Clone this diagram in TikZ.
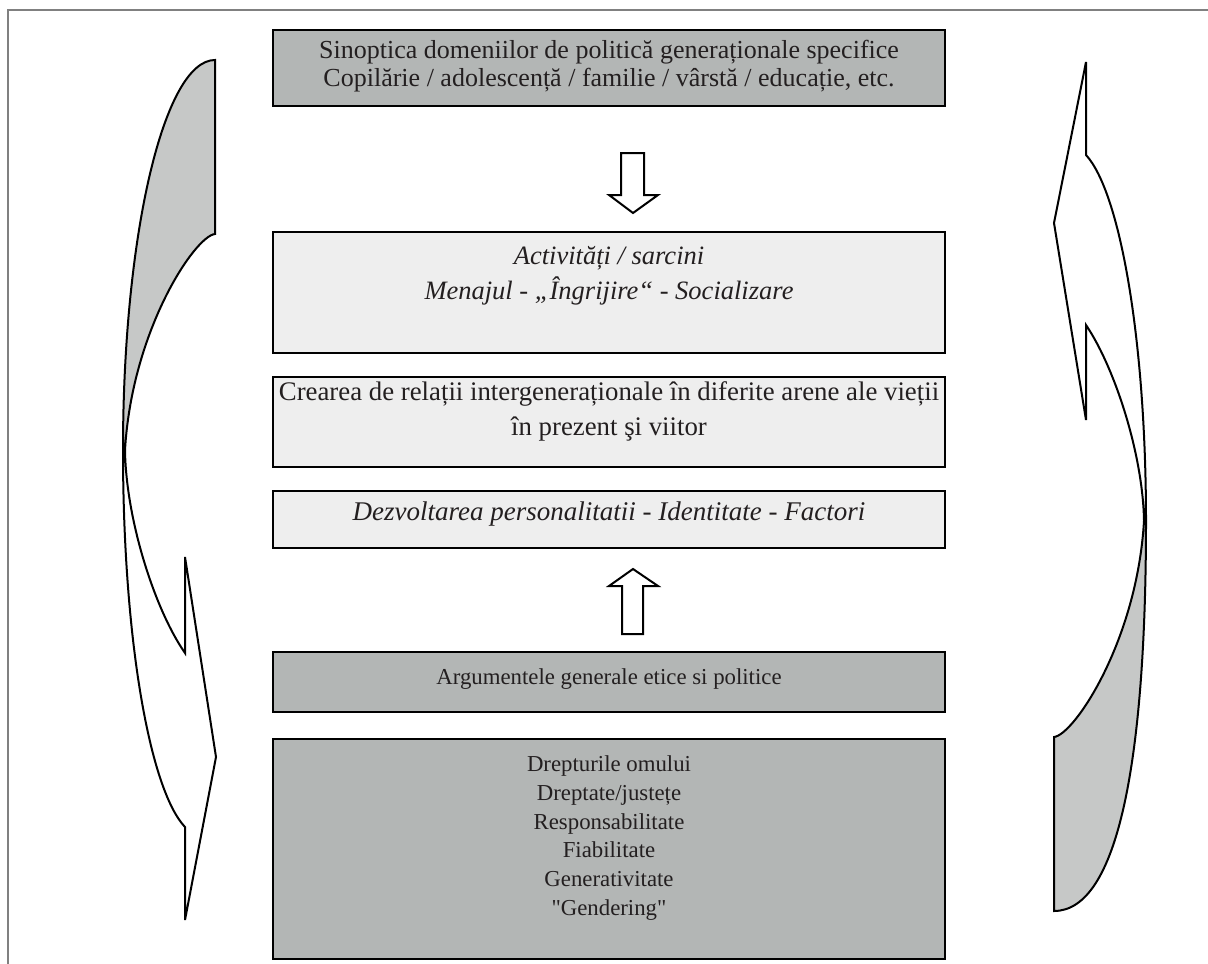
\documentclass[tikz,border=0pt]{standalone}
\usepackage{fontspec}
\setmainfont{Liberation Serif}
\newfontfamily\plainserif{Liberation Serif}[Ligatures=TeXOff]
\definecolor{boxdark}{RGB}{179,182,181}
\definecolor{boxlight}{RGB}{238,238,238}
\definecolor{arrgrey}{RGB}{198,200,199}
\definecolor{framegrey}{RGB}{128,128,128}
\definecolor{textcol}{RGB}{35,31,32}
\begin{document}
\begin{tikzpicture}[x=1pt,y=-1pt,
  boxbase/.style={draw=black, line width=2pt, minimum width=672pt, inner sep=0pt},
  darkbox/.style={boxbase, fill=boxdark},
  lightbox/.style={boxbase, fill=boxlight},
  txt/.style={font=\fontsize{22.8}{26}\selectfont, text=textcol, inner sep=0pt, anchor=mid},
  bigtxt/.style={txt, font=\fontsize{26}{30}\selectfont},
  bigitxt/.style={txt, font=\fontsize{26.5}{30}\selectfont\itshape},
  outl/.style={draw=black, line width=2pt, line join=miter},
  blockarrow/.style={draw=black, line width=2pt, fill=white, line join=miter}]
\useasboundingbox (0,0) rectangle (1208,964);
% outer frame
\draw[framegrey, line width=2pt] (8,964) -- (8,10) -- (1208,10);

% boxes
\node[darkbox, minimum height=76pt] (b1) at (609,68) {};
\node[lightbox, minimum height=121pt] (b2) at (609,292.5) {};
\node[lightbox, minimum height=90pt] (b3) at (609,422) {};
\node[lightbox, minimum height=57pt] (b4) at (609,519.5) {};
\node[darkbox, minimum height=60pt] (b5) at (609,682) {};
\node[darkbox, minimum height=220pt] (b6) at (609,849) {};

% texts
\node[bigtxt] (t1a) at (609,56) {Sinoptica domeniilor de politică generaționale specifice};
\node[bigtxt] (t1b) at (609,84) {Copilărie / adolescență / familie / vârstă / educație, etc.};
\node[bigitxt] (t2a) at (609,262) {Activități / sarcini};
\node[bigitxt] (t2b) at (609,297) {Menajul - „Îngrijire“ - Socializare};
\node[bigtxt, font=\fontsize{26.8}{30}\selectfont] (t3a) at (609,398) {Crearea de relații intergeneraționale în diferite arene ale vieții};
\node[bigtxt, font=\fontsize{26.8}{30}\selectfont] (t3b) at (609,433) {în prezent şi viitor};
\node[bigitxt, font=\fontsize{27}{30}\selectfont\itshape] (t4) at (609,518) {Dezvoltarea personalitatii - Identitate - Factori};
\node[txt] (t5) at (609,682) {Argumentele generale etice si politice};
\node[txt] (t6a) at (609,769) {Drepturile omului};
\node[txt] (t6b) at (609,798) {Dreptate/justețe};
\node[txt] (t6c) at (609,827) {Responsabilitate};
\node[txt] (t6d) at (609,855) {Fiabilitate};
\node[txt] (t6e) at (609,884) {Generativitate};
\node[txt, font=\fontsize{22.8}{26}\plainserif] (t6f) at (609,913) {"Gendering"};

% block arrows
\draw[blockarrow] (621,153) -- (644,153) -- (644,195) -- (658,195) -- (633,213) -- (609,195) -- (621,195) -- cycle;
\draw[blockarrow] (622,634) -- (643,634) -- (643,586) -- (658,586) -- (633,569) -- (609,586) -- (622,586) -- cycle;

% left curved arrow
\fill[arrgrey] (215,60) -- (215,234) .. controls (195,236) and (132,330) .. (125,450)
  -- (123,450) .. controls (123,235) and (164,60) .. (215,60) -- cycle;
\draw[outl] (215,60) -- (215,234) .. controls (195,236) and (132,330) .. (125,450)
  .. controls (126,520) and (155,610) .. (185,653) -- (185,557) -- (216,757) -- (185,920) -- (185,827)
  .. controls (150,790) and (123,640) .. (123,450) .. controls (123,235) and (164,60) .. (215,60) -- cycle;

% right curved arrow
\fill[arrgrey] (1054,911) -- (1054,737) .. controls (1074,735) and (1137,641) .. (1144,521)
  -- (1146,521) .. controls (1146,760) and (1118,911) .. (1054,911) -- cycle;
\draw[outl] (1054,911) -- (1054,737) .. controls (1074,735) and (1137,641) .. (1144,521)
  .. controls (1143,455) and (1115,368) .. (1086,325) -- (1086,420) -- (1054,223) -- (1086,62) -- (1086,155)
  .. controls (1120,192) and (1146,340) .. (1146,521) .. controls (1146,760) and (1118,911) .. (1054,911) -- cycle;
\end{tikzpicture}
\end{document}
